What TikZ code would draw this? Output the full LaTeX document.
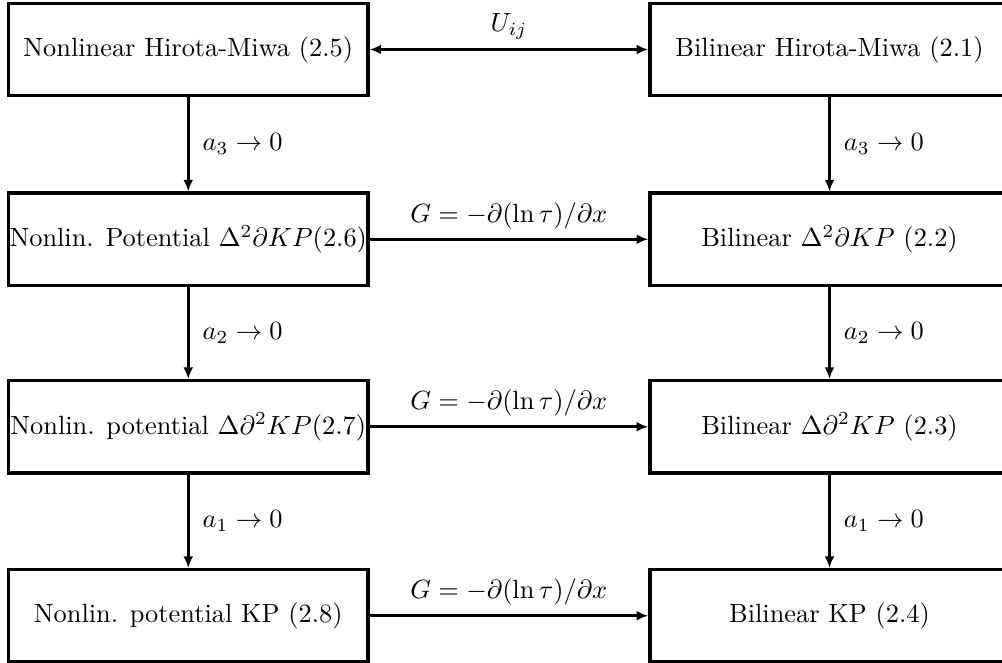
\documentclass[tikz,border=0pt]{standalone}
\usetikzlibrary{arrows.meta}

\begin{document}
\begin{tikzpicture}[
  eqbox/.style={draw, line width=1.3pt, minimum width=4.79cm, minimum height=1.23cm, inner sep=0pt},
  link/.style={line width=1.3pt, >={Latex[length=4.4pt,width=3.8pt]}, ->}]
\useasboundingbox (0,0) rectangle (13.36,-8.84);
% nonlinear side
\node[eqbox] (nhm) at (2.51,-0.66) {Nonlinear Hirota-Miwa (2.5)};
\node[eqbox] (nkpa) at (2.51,-3.19) {Nonlin. Potential $\Delta^2\partial KP$(2.6)};
\node[eqbox] (nkpb) at (2.51,-5.69) {Nonlin. potential $\Delta\partial^2 KP$(2.7)};
\node[eqbox] (nkp) at (2.51,-8.21) {Nonlin. potential KP (2.8)};
% bilinear side
\node[eqbox] (bhm) at (11.06,-0.66) {Bilinear Hirota-Miwa (2.1)};
\node[eqbox] (bkpa) at (11.06,-3.19) {Bilinear $\Delta^2\partial KP$ (2.2)};
\node[eqbox] (bkpb) at (11.06,-5.69) {Bilinear $\Delta\partial^2 KP$ (2.3)};
\node[eqbox] (bkp) at (11.06,-8.21) {Bilinear KP (2.4)};
% across
\draw[link,<->] (nhm) -- node[above]{$U_{ij}$} (bhm);
\draw[link] (nkpa) -- node[above]{$G=-\partial(\ln\tau)/\partial x$} (bkpa);
\draw[link] (nkpb) -- node[above]{$G=-\partial(\ln\tau)/\partial x$} (bkpb);
\draw[link] (nkp) -- node[above]{$G=-\partial(\ln\tau)/\partial x$} (bkp);
% down
\draw[link] (nhm) -- node[right=1.5pt]{$a_3\to0$} (nkpa);
\draw[link] (nkpa) -- node[right=1.5pt]{$a_2\to0$} (nkpb);
\draw[link] (nkpb) -- node[right=1.5pt]{$a_1\to0$} (nkp);
\draw[link] (bhm) -- node[right=1.5pt]{$a_3\to0$} (bkpa);
\draw[link] (bkpa) -- node[right=1.5pt]{$a_2\to0$} (bkpb);
\draw[link] (bkpb) -- node[right=1.5pt]{$a_1\to0$} (bkp);
\end{tikzpicture}
\end{document}
